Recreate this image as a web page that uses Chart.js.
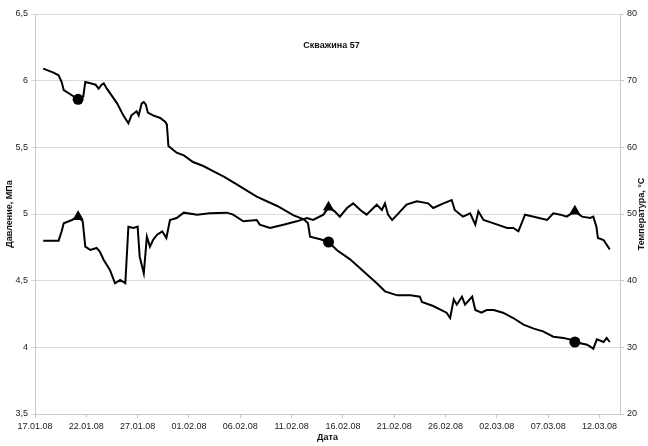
<!DOCTYPE html>
<html>
<head>
<meta charset="utf-8">
<script src="https://cdn.jsdelivr.net/npm/chart.js@4/dist/chart.umd.min.js"></script>
<style>
html,body{margin:0;padding:0;background:#fff;}
#wrap{width:648px;height:446px;position:relative;}
</style>
</head>
<body>
<div id="wrap"><canvas id="c"></canvas></div>
<script>
// Dates: tick labels every 5 days starting 17.01.08 (day 0)
const dateTickLabels = ['17.01.08','22.01.08','27.01.08','01.02.08','06.02.08','11.02.08','16.02.08','21.02.08','26.02.08','02.03.08','07.03.08','12.03.08'];

// Pressure, MPa (left axis)
const pressureDays = [0.8,1.8,2.3,2.6,2.8,3.4,4.2,4.7,4.9,5.4,5.9,6.2,6.5,6.7,7.0,8.0,8.6,9.1,9.4,9.9,10.1,10.4,10.6,10.8,11.0,11.5,12.2,12.7,12.85,13.0,13.8,14.5,15.4,16.4,17.4,18.4,19.7,21.6,23.6,25.2,26.2,26.6,26.8,27.8,28.6,29.4,30.7,32.0,33.3,34.1,35.3,36.6,37.5,37.7,38.8,40.1,40.45,40.8,41.1,41.6,41.9,42.6,42.9,43.5,44.0,44.7,45.6,46.6,47.6,48.6,49.5,50.5,51.5,52.1,52.6,53.8,54.4,54.75,55.4,55.7,56.0];
const pressureValues = [6.09,6.06,6.04,5.99,5.93,5.90,5.86,5.88,5.99,5.98,5.97,5.94,5.97,5.98,5.94,5.83,5.74,5.68,5.74,5.77,5.74,5.83,5.84,5.82,5.76,5.74,5.72,5.69,5.67,5.51,5.46,5.44,5.39,5.36,5.32,5.28,5.22,5.13,5.06,4.99,4.96,4.93,4.83,4.81,4.79,4.73,4.66,4.57,4.48,4.42,4.39,4.39,4.38,4.34,4.31,4.26,4.22,4.36,4.32,4.38,4.32,4.38,4.28,4.26,4.28,4.28,4.26,4.22,4.17,4.14,4.12,4.08,4.07,4.06,4.04,4.02,3.99,4.06,4.04,4.07,4.04];

// Temperature, °C (right axis)
const tempDays = [0.8,2.3,2.6,2.8,3.6,4.2,4.65,4.9,5.4,6.0,6.3,6.7,7.3,7.8,8.3,8.8,9.1,9.6,10.0,10.2,10.6,10.9,11.2,11.5,11.9,12.4,12.8,13.15,13.8,14.5,15.8,17.0,18.7,19.3,20.3,21.6,21.9,22.9,24.2,25.5,26.5,27.1,28.1,28.6,29.2,29.7,30.4,31.0,31.7,32.3,33.3,33.8,34.1,34.4,34.8,35.3,36.2,37.2,38.3,38.8,39.8,40.6,40.9,41.7,42.4,42.9,43.2,43.7,44.7,46.0,46.6,47.1,47.75,48.6,49.9,50.5,51.2,51.8,52.6,53.3,54.1,54.4,54.7,54.85,55.4,56.0];
const tempValues = [46.0,46.0,47.4,48.6,49.1,49.6,48.9,45.1,44.6,44.9,44.4,43.1,41.6,39.6,40.1,39.6,48.1,47.9,48.1,43.6,41.1,46.6,45.1,46.1,46.9,47.4,46.4,49.1,49.4,50.2,49.9,50.1,50.2,49.9,48.9,49.1,48.4,47.9,48.4,48.9,49.4,49.1,49.9,51.0,50.4,49.6,50.9,51.6,50.6,49.9,51.4,50.6,51.6,49.9,49.1,49.9,51.4,51.9,51.6,50.9,51.6,52.1,50.6,49.6,50.1,48.4,50.4,49.1,48.6,47.9,47.9,47.4,49.9,49.6,49.1,50.1,49.9,49.6,50.4,49.6,49.4,49.6,48.1,46.4,46.1,44.7];

// Days at which series markers are shown
const markerDays = [4.2, 28.6, 52.6];

const FONT = 'Liberation Sans, Arial, sans-serif';
const toPts = (xs, ys) => xs.map((x, i) => ({x: x, y: ys[i]}));
const markerRadius = r => ctx => (ctx.raw && markerDays.includes(ctx.raw.x)) ? r : 0;

const overlay = {
  id: 'overlay',
  afterDraw(chart) {
    const {ctx, chartArea} = chart;
    ctx.save();
    ctx.fillStyle = '#111';
    ctx.font = 'bold 9px ' + FONT;
    ctx.textAlign = 'center';
    ctx.textBaseline = 'middle';
    ctx.fillText('Скважина 57', (chartArea.left + chartArea.right) / 2 + 4, chartArea.top + 32);
    ctx.translate(642, (chartArea.top + chartArea.bottom) / 2);
    ctx.rotate(-Math.PI / 2);
    ctx.fillText('Температура, °С', 0, 0);
    ctx.restore();
  }
};

new Chart(document.getElementById('c'), {
  type: 'line',
  data: {
    datasets: [
      {
        label: 'Давление',
        data: toPts(pressureDays, pressureValues),
        yAxisID: 'y',
        borderColor: '#000',
        backgroundColor: '#000',
        borderWidth: 2,
        pointStyle: 'circle',
        pointRadius: markerRadius(5.5),
        pointHoverRadius: markerRadius(5.5),
        pointBorderWidth: 0,
        tension: 0
      },
      {
        label: 'Температура',
        data: toPts(tempDays, tempValues),
        yAxisID: 'y2',
        borderColor: '#000',
        backgroundColor: '#000',
        borderWidth: 2,
        pointStyle: 'triangle',
        pointRadius: markerRadius(6.5),
        pointHoverRadius: markerRadius(6.5),
        pointBorderWidth: 0,
        tension: 0
      }
    ]
  },
  options: {
    responsive: true,
    maintainAspectRatio: false,
    animation: false,
    layout: {padding: {top: 14, left: 0, right: 0, bottom: 0}},
    plugins: {legend: {display: false}, tooltip: {enabled: false}},
    scales: {
      x: {
        type: 'linear',
        position: 'bottom',
        min: 0,
        max: 57,
        afterBuildTicks: s => { s.ticks = dateTickLabels.map((_, i) => ({value: i * 5})); },
        afterFit: s => { s.height = 32; },
        ticks: {
          autoSkip: false, maxRotation: 0, padding: 3,
          color: '#222', font: {family: FONT, size: 9},
          callback: v => dateTickLabels[Math.round(v / 5)] || ''
        },
        grid: {drawOnChartArea: false, drawTicks: true, tickLength: 4, color: '#c8c8c8'},
        border: {color: '#c8c8c8'},
        title: {display: true, text: 'Дата', color: '#111', font: {family: FONT, size: 9, weight: 'bold'}, padding: {top: 0, bottom: 3}}
      },
      y: {
        position: 'left',
        min: 3.5,
        max: 6.5,
        afterFit: s => { s.width = 35; },
        ticks: {
          stepSize: 0.5, padding: 3, color: '#222', font: {family: FONT, size: 9},
          callback: v => String(v).replace('.', ',')
        },
        grid: {color: '#d9d9d9', tickLength: 4},
        border: {color: '#c8c8c8'},
        title: {display: true, text: 'Давление, МПа', color: '#111', font: {family: FONT, size: 9, weight: 'bold'}, padding: {top: 4, bottom: 0}}
      },
      y2: {
        position: 'right',
        min: 20,
        max: 80,
        afterFit: s => { s.width = 28; },
        ticks: {stepSize: 10, padding: 3, color: '#222', font: {family: FONT, size: 9}},
        grid: {drawOnChartArea: false, tickLength: 4, color: '#c8c8c8'},
        border: {color: '#c8c8c8'}
      }
    }
  },
  plugins: [overlay]
});
</script>
</body>
</html>
